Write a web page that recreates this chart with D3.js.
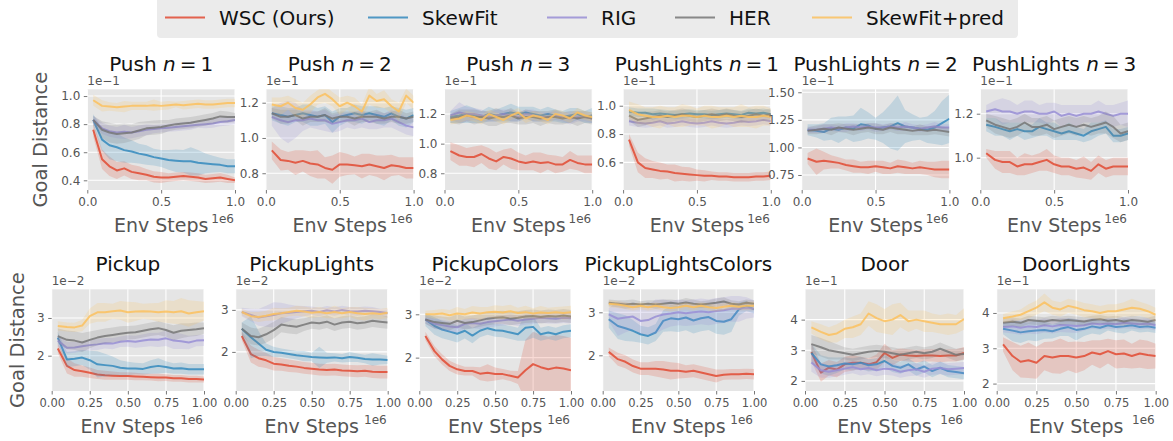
<!DOCTYPE html>
<html>
<head>
<meta charset="utf-8">
<title>Goal distance vs env steps</title>
<script src="https://d3js.org/d3.v7.min.js"></script>
<style>
  body { margin: 0; background: #fff; }
  svg { font-family: "DejaVu Sans", sans-serif; }
</style>
</head>
<body>
<svg width="1173" height="441"></svg>
<script>
// methods, in plotting order
var methods = ["WSC (Ours)", "SkewFit", "RIG", "HER", "SkewFit+pred"];
var colors = ["#E24A33", "#348ABD", "#988ED5", "#777777", "#FBC15E"];

// env steps (x 1e6) shared by every curve
var steps = [0.04, 0.1, 0.15, 0.2, 0.25, 0.3, 0.35, 0.4, 0.45, 0.5,
             0.55, 0.6, 0.65, 0.7, 0.75, 0.8, 0.85, 0.9, 0.95, 1.0];

// ---- mean goal distance, one row per method (values in the panel's 1e-k units)
var pushN1Mean = [
  [0.76,0.55,0.50,0.47,0.485,0.46,0.45,0.44,0.425,0.42,0.42,0.425,0.43,0.425,0.42,0.41,0.415,0.42,0.41,0.40],
  [0.83,0.69,0.65,0.635,0.615,0.605,0.59,0.58,0.565,0.555,0.545,0.54,0.535,0.535,0.525,0.52,0.515,0.51,0.50,0.50],
  [0.83,0.77,0.75,0.74,0.745,0.74,0.75,0.76,0.765,0.77,0.775,0.78,0.785,0.79,0.795,0.80,0.805,0.815,0.82,0.83],
  [0.83,0.76,0.74,0.73,0.735,0.74,0.755,0.77,0.775,0.78,0.79,0.80,0.805,0.81,0.82,0.83,0.84,0.855,0.85,0.85],
  [0.97,0.93,0.925,0.92,0.925,0.93,0.93,0.93,0.935,0.93,0.935,0.94,0.935,0.94,0.945,0.94,0.94,0.945,0.95,0.95]
];
var pushN1Sd = [
  [0.05,0.07,0.07,0.06,0.05,0.05,0.05,0.04,0.04,0.04,0.03,0.03,0.03,0.03,0.03,0.03,0.03,0.03,0.03,0.02],
  [0.04,0.08,0.10,0.10,0.09,0.08,0.07,0.07,0.06,0.06,0.07,0.08,0.08,0.10,0.09,0.07,0.06,0.05,0.05,0.05],
  [0.03,0.04,0.04,0.04,0.05,0.04,0.04,0.04,0.03,0.03,0.03,0.03,0.03,0.03,0.02,0.03,0.03,0.03,0.03,0.03],
  [0.03,0.06,0.07,0.07,0.07,0.06,0.06,0.05,0.05,0.05,0.04,0.04,0.04,0.04,0.04,0.04,0.04,0.04,0.04,0.03],
  [0.04,0.04,0.03,0.03,0.04,0.03,0.03,0.03,0.04,0.03,0.03,0.02,0.03,0.03,0.03,0.03,0.03,0.03,0.03,0.03]
];

var pushN2Mean = [
  [0.93,0.875,0.87,0.86,0.87,0.855,0.85,0.83,0.82,0.85,0.85,0.845,0.84,0.85,0.84,0.83,0.845,0.84,0.83,0.83],
  [1.14,1.13,1.12,1.13,1.14,1.13,1.12,1.13,1.09,1.12,1.13,1.14,1.13,1.14,1.13,1.12,1.14,1.12,1.11,1.13],
  [1.12,1.10,1.09,1.10,1.10,1.11,1.10,1.10,1.08,1.09,1.10,1.10,1.11,1.09,1.10,1.10,1.11,1.09,1.07,1.06],
  [1.14,1.12,1.12,1.13,1.11,1.12,1.12,1.13,1.11,1.12,1.12,1.11,1.12,1.12,1.12,1.11,1.12,1.12,1.11,1.12],
  [1.19,1.18,1.20,1.17,1.16,1.19,1.23,1.25,1.22,1.18,1.20,1.18,1.15,1.24,1.21,1.22,1.18,1.15,1.24,1.20]
];
var pushN2Sd = [
  [0.05,0.06,0.05,0.07,0.06,0.07,0.08,0.06,0.08,0.07,0.06,0.05,0.07,0.06,0.06,0.07,0.06,0.05,0.06,0.06],
  [0.04,0.05,0.05,0.04,0.05,0.06,0.05,0.05,0.06,0.05,0.04,0.05,0.05,0.04,0.05,0.05,0.04,0.05,0.05,0.04],
  [0.05,0.10,0.12,0.10,0.06,0.05,0.05,0.06,0.05,0.05,0.04,0.05,0.05,0.04,0.05,0.04,0.05,0.05,0.05,0.05],
  [0.03,0.04,0.04,0.03,0.04,0.03,0.03,0.04,0.03,0.03,0.03,0.04,0.03,0.03,0.04,0.03,0.03,0.04,0.03,0.03],
  [0.04,0.05,0.04,0.05,0.04,0.05,0.04,0.05,0.04,0.05,0.04,0.05,0.04,0.05,0.04,0.05,0.04,0.05,0.04,0.04]
];

var pushN3Mean = [
  [0.95,0.92,0.91,0.91,0.93,0.90,0.88,0.91,0.90,0.88,0.87,0.88,0.87,0.875,0.86,0.86,0.89,0.87,0.86,0.86],
  [1.18,1.19,1.20,1.19,1.18,1.20,1.19,1.20,1.21,1.20,1.21,1.20,1.19,1.20,1.19,1.18,1.19,1.20,1.18,1.19],
  [1.19,1.21,1.20,1.20,1.19,1.18,1.19,1.20,1.19,1.18,1.20,1.19,1.18,1.18,1.19,1.18,1.17,1.18,1.18,1.17],
  [1.17,1.18,1.19,1.18,1.18,1.17,1.18,1.18,1.19,1.17,1.18,1.18,1.17,1.18,1.18,1.17,1.18,1.17,1.18,1.17],
  [1.16,1.17,1.19,1.18,1.16,1.20,1.18,1.16,1.19,1.21,1.17,1.19,1.18,1.16,1.20,1.19,1.17,1.21,1.19,1.18]
];
var pushN3Sd = [
  [0.06,0.07,0.06,0.07,0.06,0.07,0.06,0.05,0.07,0.06,0.05,0.06,0.07,0.05,0.06,0.05,0.06,0.05,0.06,0.06],
  [0.04,0.05,0.06,0.05,0.04,0.05,0.04,0.05,0.06,0.05,0.04,0.05,0.04,0.05,0.04,0.04,0.05,0.04,0.04,0.05],
  [0.03,0.07,0.05,0.04,0.04,0.03,0.04,0.03,0.04,0.03,0.03,0.04,0.03,0.03,0.03,0.03,0.04,0.03,0.03,0.03],
  [0.03,0.05,0.04,0.05,0.04,0.05,0.06,0.04,0.05,0.04,0.05,0.04,0.05,0.04,0.05,0.04,0.04,0.05,0.04,0.04],
  [0.03,0.03,0.03,0.03,0.03,0.03,0.03,0.03,0.03,0.03,0.03,0.03,0.03,0.03,0.03,0.03,0.03,0.03,0.03,0.03]
];

var pushLightsN1Mean = [
  [0.76,0.60,0.56,0.55,0.54,0.535,0.525,0.52,0.515,0.51,0.505,0.505,0.50,0.50,0.495,0.495,0.495,0.50,0.50,0.505],
  [0.96,0.95,0.95,0.94,0.945,0.94,0.935,0.94,0.945,0.94,0.94,0.935,0.94,0.945,0.94,0.935,0.95,0.945,0.95,0.94],
  [0.89,0.88,0.875,0.88,0.89,0.875,0.88,0.89,0.88,0.875,0.88,0.89,0.88,0.875,0.88,0.89,0.885,0.89,0.90,0.89],
  [0.93,0.90,0.91,0.92,0.93,0.92,0.93,0.94,0.93,0.92,0.93,0.94,0.93,0.94,0.93,0.92,0.93,0.94,0.93,0.94],
  [0.97,0.94,0.93,0.92,0.92,0.93,0.92,0.93,0.93,0.92,0.93,0.92,0.92,0.93,0.92,0.93,0.92,0.92,0.93,0.92]
];
var pushLightsN1Sd = [
  [0.04,0.07,0.07,0.06,0.06,0.05,0.06,0.05,0.05,0.04,0.04,0.03,0.03,0.03,0.03,0.03,0.03,0.03,0.03,0.03],
  [0.03,0.03,0.03,0.04,0.03,0.03,0.03,0.03,0.03,0.03,0.03,0.03,0.03,0.03,0.03,0.03,0.03,0.03,0.03,0.03],
  [0.03,0.03,0.03,0.03,0.03,0.03,0.03,0.03,0.03,0.03,0.03,0.03,0.03,0.03,0.03,0.03,0.03,0.03,0.03,0.03],
  [0.04,0.05,0.05,0.04,0.04,0.04,0.04,0.04,0.04,0.04,0.04,0.04,0.04,0.04,0.04,0.04,0.04,0.04,0.04,0.04],
  [0.06,0.07,0.06,0.07,0.08,0.06,0.07,0.08,0.07,0.06,0.07,0.08,0.07,0.06,0.07,0.08,0.07,0.08,0.07,0.06]
];

var pushLightsN2Mean = [
  [0.90,0.87,0.88,0.87,0.86,0.84,0.83,0.82,0.82,0.83,0.82,0.81,0.83,0.82,0.81,0.82,0.81,0.80,0.80,0.80],
  [1.16,1.15,1.14,1.17,1.16,1.18,1.17,1.21,1.20,1.17,1.18,1.19,1.22,1.19,1.18,1.17,1.16,1.18,1.22,1.26],
  [1.16,1.16,1.17,1.18,1.17,1.18,1.19,1.18,1.19,1.18,1.18,1.19,1.18,1.19,1.18,1.17,1.18,1.19,1.18,1.18],
  [1.15,1.16,1.17,1.16,1.18,1.17,1.16,1.17,1.18,1.17,1.16,1.18,1.17,1.16,1.15,1.16,1.15,1.16,1.15,1.14],
  null
];
var pushLightsN2Sd = [
  [0.05,0.12,0.08,0.06,0.05,0.05,0.06,0.05,0.06,0.05,0.06,0.05,0.06,0.06,0.05,0.06,0.06,0.07,0.08,0.08],
  [0.05,0.06,0.08,0.10,0.12,0.10,0.12,0.15,0.12,0.10,0.14,0.20,0.25,0.15,0.12,0.10,0.12,0.15,0.20,0.22],
  [0.03,0.03,0.04,0.03,0.03,0.04,0.03,0.03,0.03,0.04,0.03,0.03,0.03,0.04,0.03,0.03,0.03,0.04,0.03,0.03],
  [0.03,0.04,0.04,0.05,0.04,0.04,0.05,0.04,0.04,0.05,0.04,0.04,0.05,0.04,0.04,0.05,0.04,0.04,0.04,0.04],
  null
];

var pushLightsN3Mean = [
  [1.02,0.99,0.98,0.98,0.96,0.97,0.97,0.98,0.99,0.97,0.96,0.96,0.95,0.955,0.94,0.97,0.95,0.96,0.96,0.96],
  [1.15,1.14,1.13,1.12,1.13,1.12,1.12,1.14,1.13,1.12,1.11,1.12,1.11,1.10,1.12,1.13,1.14,1.10,1.10,1.11],
  [1.21,1.22,1.21,1.21,1.20,1.21,1.21,1.20,1.20,1.21,1.19,1.20,1.19,1.20,1.20,1.21,1.20,1.19,1.20,1.20],
  [1.17,1.15,1.14,1.13,1.14,1.16,1.14,1.14,1.15,1.13,1.14,1.15,1.14,1.15,1.14,1.15,1.16,1.14,1.11,1.12],
  null
];
var pushLightsN3Sd = [
  [0.02,0.04,0.05,0.05,0.04,0.05,0.04,0.04,0.05,0.04,0.04,0.04,0.04,0.05,0.04,0.04,0.04,0.04,0.04,0.04],
  [0.03,0.04,0.03,0.04,0.03,0.04,0.03,0.04,0.03,0.04,0.03,0.04,0.03,0.03,0.04,0.03,0.03,0.03,0.03,0.03],
  [0.03,0.04,0.06,0.05,0.04,0.05,0.05,0.04,0.05,0.04,0.05,0.04,0.05,0.04,0.04,0.05,0.04,0.05,0.05,0.06],
  [0.03,0.04,0.04,0.04,0.04,0.04,0.04,0.04,0.04,0.04,0.04,0.04,0.04,0.04,0.04,0.04,0.05,0.05,0.04,0.04],
  null
];

var pickupMean = [
  [2.19,1.73,1.62,1.59,1.55,1.50,1.48,1.47,1.46,1.46,1.45,1.44,1.43,1.42,1.42,1.40,1.40,1.38,1.38,1.37],
  [2.48,1.90,1.92,1.95,1.88,1.77,1.75,1.73,1.68,1.66,1.66,1.65,1.70,1.73,1.70,1.66,1.67,1.64,1.64,1.64],
  [2.40,2.21,2.22,2.25,2.28,2.30,2.33,2.32,2.37,2.39,2.37,2.40,2.43,2.42,2.46,2.40,2.38,2.35,2.40,2.41],
  [2.52,2.42,2.40,2.35,2.42,2.48,2.52,2.55,2.58,2.61,2.62,2.66,2.70,2.73,2.68,2.61,2.66,2.68,2.70,2.73],
  [2.79,2.76,2.75,2.80,3.05,3.15,3.15,3.18,3.20,3.15,3.17,3.18,3.17,3.15,3.17,3.15,3.18,3.12,3.15,3.18]
];
var pickupSd = [
  [0.12,0.20,0.18,0.15,0.14,0.12,0.12,0.11,0.10,0.10,0.10,0.09,0.09,0.10,0.09,0.09,0.09,0.09,0.09,0.08],
  [0.15,0.20,0.20,0.20,0.25,0.35,0.30,0.25,0.20,0.18,0.15,0.15,0.18,0.20,0.15,0.14,0.15,0.14,0.14,0.14],
  [0.15,0.15,0.14,0.13,0.14,0.15,0.14,0.15,0.14,0.15,0.16,0.17,0.18,0.19,0.20,0.22,0.20,0.18,0.15,0.15],
  [0.20,0.25,0.25,0.25,0.22,0.20,0.20,0.20,0.20,0.18,0.18,0.18,0.18,0.18,0.18,0.20,0.20,0.18,0.18,0.15],
  [0.12,0.12,0.12,0.15,0.20,0.25,0.25,0.20,0.25,0.28,0.25,0.20,0.22,0.25,0.30,0.30,0.35,0.35,0.30,0.25]
];

var pickupLightsMean = [
  [2.38,1.95,1.85,1.80,1.72,1.70,1.67,1.65,1.62,1.60,1.58,1.57,1.58,1.56,1.55,1.54,1.55,1.53,1.52,1.52],
  [2.55,2.35,2.20,2.05,2.00,1.98,1.95,1.92,1.90,1.88,1.87,1.86,1.87,1.85,1.88,1.86,1.83,1.82,1.82,1.81],
  [2.95,2.88,2.82,2.85,2.88,2.92,2.93,2.95,2.97,2.98,2.95,2.99,2.96,3.00,2.97,2.96,2.98,2.97,2.95,2.92],
  [2.55,2.38,2.35,2.42,2.52,2.65,2.62,2.60,2.65,2.70,2.68,2.72,2.65,2.70,2.72,2.68,2.70,2.74,2.72,2.70],
  [2.95,2.85,2.83,2.86,2.90,2.92,2.95,2.98,2.96,2.93,2.95,2.92,2.95,2.92,2.95,2.92,2.90,2.92,2.90,2.93]
];
var pickupLightsSd = [
  [0.10,0.20,0.20,0.18,0.16,0.15,0.15,0.14,0.14,0.14,0.14,0.14,0.14,0.14,0.14,0.14,0.14,0.15,0.15,0.15],
  [0.15,0.50,0.30,0.15,0.12,0.10,0.10,0.10,0.12,0.10,0.25,0.12,0.10,0.10,0.12,0.10,0.10,0.15,0.12,0.10],
  [0.10,0.15,0.20,0.25,0.30,0.25,0.20,0.15,0.12,0.10,0.10,0.10,0.10,0.10,0.10,0.10,0.10,0.10,0.08,0.10],
  [0.15,0.20,0.20,0.20,0.20,0.18,0.18,0.18,0.15,0.15,0.15,0.15,0.15,0.15,0.15,0.15,0.15,0.15,0.15,0.15],
  [0.08,0.10,0.12,0.12,0.15,0.12,0.10,0.12,0.12,0.12,0.12,0.12,0.15,0.12,0.12,0.15,0.15,0.12,0.12,0.12]
];

var pickupColorsMean = [
  [2.50,2.15,1.96,1.81,1.73,1.69,1.69,1.63,1.65,1.62,1.62,1.58,1.54,1.71,1.85,1.78,1.73,1.77,1.75,1.71],
  [2.88,2.73,2.65,2.60,2.55,2.62,2.51,2.62,2.68,2.63,2.62,2.58,2.54,2.69,2.71,2.54,2.58,2.54,2.60,2.62],
  [2.88,2.78,2.75,2.72,2.70,2.78,2.80,2.78,2.82,2.84,2.86,2.88,2.85,2.88,2.90,2.92,2.91,2.90,2.92,2.91],
  [2.88,2.82,2.80,2.78,2.85,2.80,2.82,2.86,2.90,2.92,2.93,2.90,2.92,2.95,2.96,2.94,2.96,2.95,2.97,2.95],
  [3.00,3.00,3.02,2.98,3.02,3.00,3.04,3.02,3.05,3.06,3.04,3.07,3.03,3.05,3.02,3.04,3.03,3.05,3.03,3.05]
];
var pickupColorsSd = [
  [0.10,0.12,0.12,0.12,0.12,0.10,0.10,0.15,0.20,0.15,0.12,0.12,0.15,0.70,0.75,0.75,0.75,0.75,0.75,0.75],
  [0.15,0.20,0.20,0.20,0.20,0.18,0.18,0.15,0.15,0.15,0.15,0.15,0.15,0.30,0.25,0.15,0.15,0.15,0.15,0.15],
  [0.10,0.12,0.12,0.12,0.12,0.12,0.12,0.12,0.12,0.12,0.12,0.12,0.12,0.12,0.12,0.12,0.12,0.12,0.12,0.12],
  [0.10,0.15,0.15,0.15,0.15,0.15,0.15,0.15,0.15,0.15,0.15,0.15,0.15,0.15,0.15,0.15,0.15,0.15,0.15,0.15],
  [0.08,0.10,0.10,0.12,0.15,0.12,0.15,0.15,0.12,0.15,0.15,0.15,0.12,0.15,0.12,0.15,0.12,0.12,0.15,0.15]
];

var pickupLightsColorsMean = [
  [2.08,1.91,1.85,1.75,1.69,1.69,1.69,1.67,1.64,1.64,1.62,1.64,1.60,1.56,1.52,1.55,1.56,1.56,1.57,1.56],
  [2.84,2.68,2.63,2.57,2.49,2.45,2.53,2.80,2.86,2.84,2.88,2.81,2.86,2.89,2.80,2.78,2.84,3.07,3.15,3.07],
  [2.95,2.85,2.88,2.90,2.80,2.82,2.90,2.95,2.97,3.00,2.98,3.00,3.02,3.00,3.03,3.05,3.08,3.08,3.10,3.08],
  [3.22,3.20,3.18,3.20,3.18,3.20,3.18,3.20,3.22,3.20,3.23,3.20,3.18,3.20,3.22,3.25,3.20,3.18,3.22,3.20],
  [3.20,3.18,3.15,3.12,3.15,3.12,3.15,3.12,3.10,3.12,3.15,3.12,3.15,3.12,3.10,3.13,3.15,3.13,3.15,3.15]
];
var pickupLightsColorsSd = [
  [0.10,0.15,0.15,0.15,0.15,0.15,0.18,0.20,0.20,0.18,0.15,0.15,0.15,0.15,0.15,0.12,0.12,0.12,0.12,0.12],
  [0.20,0.30,0.30,0.25,0.20,0.20,0.20,0.25,0.30,0.30,0.30,0.30,0.30,0.30,0.30,0.30,0.30,0.15,0.12,0.10],
  [0.15,0.40,0.35,0.30,0.30,0.35,0.40,0.35,0.30,0.30,0.30,0.30,0.30,0.30,0.30,0.30,0.30,0.30,0.25,0.20],
  [0.08,0.08,0.10,0.10,0.08,0.08,0.10,0.10,0.08,0.08,0.10,0.10,0.08,0.08,0.10,0.10,0.08,0.08,0.08,0.08],
  [0.08,0.08,0.08,0.08,0.08,0.08,0.08,0.08,0.08,0.08,0.08,0.08,0.08,0.08,0.08,0.08,0.08,0.08,0.10,0.10]
];

var doorMean = [
  [2.94,2.27,2.43,2.37,2.54,2.59,2.59,2.54,2.61,2.91,2.75,2.86,2.83,2.81,2.83,2.83,2.81,2.83,2.83,2.91],
  [2.91,2.54,2.47,2.51,2.57,2.54,2.59,2.51,2.54,2.65,2.49,2.43,2.54,2.37,2.47,2.32,2.43,2.32,2.29,2.25],
  [2.60,2.35,2.30,2.35,2.40,2.45,2.38,2.42,2.35,2.40,2.38,2.30,2.35,2.38,2.30,2.40,2.42,2.38,2.40,2.42],
  [3.20,3.10,3.00,2.95,2.90,2.85,2.90,2.95,2.98,2.95,2.90,2.85,2.90,2.95,2.90,2.95,3.05,2.95,2.85,2.88],
  [3.75,3.60,3.50,3.55,3.70,3.75,3.85,4.20,4.05,3.95,4.00,4.15,3.95,4.00,3.95,3.90,3.85,3.85,3.85,4.02]
];
var doorSd = [
  [0.30,0.30,0.25,0.25,0.25,0.25,0.20,0.20,0.25,0.30,0.25,0.20,0.20,0.20,0.20,0.20,0.20,0.20,0.20,0.20],
  [0.30,0.30,0.30,0.25,0.20,0.20,0.20,0.20,0.20,0.20,0.20,0.20,0.20,0.20,0.20,0.20,0.20,0.20,0.20,0.20],
  [0.30,0.25,0.20,0.20,0.20,0.20,0.20,0.20,0.20,0.20,0.20,0.20,0.20,0.20,0.20,0.20,0.20,0.20,0.20,0.20],
  [0.30,0.30,0.30,0.25,0.20,0.20,0.20,0.20,0.20,0.20,0.20,0.20,0.20,0.20,0.20,0.20,0.20,0.20,0.20,0.20],
  [0.20,0.25,0.25,0.30,0.30,0.35,0.35,0.40,0.45,0.40,0.50,0.40,0.35,0.30,0.35,0.30,0.30,0.35,0.30,0.35]
];

var doorLightsMean = [
  [3.11,2.78,2.62,2.66,2.59,2.78,2.74,2.78,2.78,2.74,2.78,2.88,2.83,2.92,2.83,2.85,2.78,2.85,2.81,2.78],
  [3.55,3.50,3.45,3.48,3.50,3.52,3.48,3.55,3.60,3.52,3.55,3.62,3.58,3.65,3.60,3.62,3.65,3.60,3.62,3.58],
  [3.60,3.62,3.58,3.62,3.60,3.65,3.62,3.66,3.65,3.63,3.65,3.70,3.68,3.70,3.68,3.72,3.70,3.68,3.70,3.65],
  [3.72,3.75,3.72,3.80,3.78,3.76,3.80,3.78,3.80,3.78,3.76,3.80,3.82,3.78,3.80,3.76,3.80,3.78,3.75,3.80],
  [3.85,3.90,3.95,4.05,4.15,4.30,4.15,4.10,4.20,4.15,4.08,4.05,4.00,4.05,4.05,4.10,4.15,4.12,4.05,3.95]
];
var doorLightsSd = [
  [0.20,0.40,0.45,0.50,0.45,0.40,0.45,0.50,0.40,0.45,0.40,0.35,0.40,0.35,0.40,0.40,0.35,0.40,0.40,0.35],
  [0.15,0.30,0.30,0.25,0.30,0.25,0.20,0.20,0.25,0.30,0.20,0.20,0.20,0.15,0.15,0.20,0.15,0.15,0.15,0.15],
  [0.15,0.20,0.20,0.20,0.20,0.20,0.20,0.20,0.20,0.20,0.15,0.15,0.15,0.15,0.15,0.15,0.15,0.15,0.15,0.15],
  [0.12,0.12,0.12,0.12,0.12,0.12,0.12,0.12,0.12,0.12,0.12,0.12,0.12,0.12,0.12,0.12,0.12,0.12,0.12,0.12],
  [0.12,0.15,0.15,0.20,0.20,0.25,0.20,0.20,0.20,0.20,0.20,0.20,0.20,0.20,0.20,0.20,0.25,0.20,0.20,0.20]
];

// ---- per-panel labels and axis settings
var panelNames = ["Push", "Push", "Push", "PushLights", "PushLights", "PushLights",
                  "Pickup", "PickupLights", "PickupColors", "PickupLightsColors", "Door", "DoorLights"];
var panelN = [1, 2, 3, 1, 2, 3, null, null, null, null, null, null];
var panelMeans = [pushN1Mean, pushN2Mean, pushN3Mean, pushLightsN1Mean, pushLightsN2Mean, pushLightsN3Mean,
                  pickupMean, pickupLightsMean, pickupColorsMean, pickupLightsColorsMean, doorMean, doorLightsMean];
var panelSds = [pushN1Sd, pushN2Sd, pushN3Sd, pushLightsN1Sd, pushLightsN2Sd, pushLightsN3Sd,
                pickupSd, pickupLightsSd, pickupColorsSd, pickupLightsColorsSd, doorSd, doorLightsSd];
var yOffsetText = ["1e\u22121", "1e\u22121", "1e\u22121", "1e\u22121", "1e\u22121", "1e\u22121",
                   "1e\u22122", "1e\u22122", "1e\u22122", "1e\u22122", "1e\u22121", "1e\u22121"];
var yLimits = [[0.331, 1.048], [0.705, 1.276], [0.687, 1.367], [0.405, 1.116], [0.614, 1.527], [0.853, 1.311],
               [1.064, 3.76], [1.07, 3.49], [1.23, 3.577], [1.17, 3.535], [1.67, 4.99], [1.79, 4.67]];
var yTicks = [[0.4, 0.6, 0.8, 1.0], [0.8, 1.0, 1.2], [0.8, 1.0, 1.2], [0.6, 0.8, 1.0], [0.75, 1.0, 1.25, 1.5], [1.0, 1.2],
              [2, 3], [2, 3], [2, 3], [2, 3], [2, 3, 4], [2, 3, 4]];
var yTickDigits = [1, 1, 1, 1, 2, 1, 0, 0, 0, 0, 0, 0];
var xTicksTop = [0, 0.5, 1.0];
var xTicksBottom = [0, 0.25, 0.5, 0.75, 1.0];

// ---- layout (pixels)
var rows = [
  { top: 89.3, bottom: 190, lefts: [87.3, 265.9, 444.5, 623.1, 801.7, 980.3], widths: [147.7, 147.7, 147.7, 147.7, 147.7, 147.7], ylabelX: 47, xt: xTicksTop, xd: 1, xfs: 12 },
  { top: 289.3, bottom: 391, lefts: [51.7, 235.7, 419.3, 602.7, 805, 996.7], widths: [152.3, 152, 151.7, 151.3, 159, 159], ylabelX: 24, xt: xTicksBottom, xd: 2, xfs: 11.5 }
];
var legendStarts = [165, 368, 547, 675, 812];

var svg = d3.select("svg");
var grey = "#555555";

panelMeans.forEach(function(means, p) {
  var row = rows[Math.floor(p / 6)], c = p % 6;
  var left = row.lefts[c], w = row.widths[c], right = left + w;
  var x = d3.scaleLinear().domain([0, 1]).range([left, right]);
  var y = d3.scaleLinear().domain(yLimits[p]).range([row.bottom, row.top]);
  var g = svg.append("g");

  g.append("rect").attr("x", left).attr("y", row.top).attr("width", w)
    .attr("height", row.bottom - row.top).attr("fill", "#E5E5E5");

  // grid
  g.selectAll(".gx").data(row.xt).enter().append("line")
    .attr("x1", function(d) { return x(d); }).attr("x2", function(d) { return x(d); })
    .attr("y1", row.top).attr("y2", row.bottom)
    .attr("stroke", "#fff").attr("stroke-width", 1.1);
  g.selectAll(".gy").data(yTicks[p]).enter().append("line")
    .attr("x1", left).attr("x2", right)
    .attr("y1", function(d) { return y(d); }).attr("y2", function(d) { return y(d); })
    .attr("stroke", "#fff").attr("stroke-width", 1.1);

  var clipId = "clip" + p;
  svg.append("clipPath").attr("id", clipId).append("rect")
    .attr("x", left).attr("y", row.top).attr("width", w).attr("height", row.bottom - row.top);

  var plot = g.append("g").attr("clip-path", "url(#" + clipId + ")");
  var sds = panelSds[p];
  means.forEach(function(m, k) {
    if (!m) return;
    var pts = steps.map(function(s, i) { return { s: s, m: m[i], sd: sds[k][i] }; });
    var area = d3.area()
      .x(function(d) { return x(d.s); })
      .y0(function(d) { return y(d.m - d.sd); })
      .y1(function(d) { return y(d.m + d.sd); });
    var line = d3.line()
      .x(function(d) { return x(d.s); })
      .y(function(d) { return y(d.m); });
    plot.append("path").attr("d", area(pts)).attr("fill", colors[k]).attr("fill-opacity", 0.2);
    plot.append("path").attr("d", line(pts)).attr("fill", "none")
      .attr("stroke", colors[k]).attr("stroke-opacity", 0.85).attr("stroke-width", 2)
      .attr("stroke-linejoin", "round");
  });

  // axes
  var yAxis = d3.axisLeft(y).tickValues(yTicks[p]).tickSize(3.5).tickPadding(3.5)
    .tickFormat(d3.format("." + yTickDigits[p] + "f"));
  var ya = g.append("g").attr("transform", "translate(" + left + ",0)").call(yAxis);
  var xAxis = d3.axisBottom(x).tickValues(row.xt).tickSize(3.5).tickPadding(4)
    .tickFormat(d3.format("." + row.xd + "f"));
  var xa = g.append("g").attr("transform", "translate(0," + row.bottom + ")").call(xAxis);
  [ya, xa].forEach(function(a) {
    a.select(".domain").remove();
    a.selectAll("line").attr("stroke", grey).attr("stroke-width", 0.8);
    a.selectAll("text").attr("fill", grey).style("font-family", "DejaVu Sans");
  });
  ya.selectAll("text").style("font-size", "12px");
  xa.selectAll("text").style("font-size", row.xfs + "px");

  // title
  var t = g.append("text").attr("x", (left + right) / 2).attr("y", row.top - 18.5)
    .attr("text-anchor", "middle").style("font-size", "20px").attr("fill", "#111");
  t.append("tspan").text(panelNames[p] + (panelN[p] ? " " : ""));
  if (panelN[p]) {
    t.append("tspan").style("font-style", "italic").text("n");
    t.append("tspan").text("\u2009=\u2009" + panelN[p]);
  }

  g.append("text").attr("x", left).attr("y", row.top - 4.5)
    .style("font-size", "12px").attr("fill", grey).text(yOffsetText[p]);
  g.append("text").attr("x", right - 1).attr("y", row.bottom + 32.7).attr("text-anchor", "end")
    .style("font-size", "12px").attr("fill", grey).text("1e6");
  g.append("text").attr("x", (left + right) / 2).attr("y", row.bottom + 42)
    .attr("text-anchor", "middle").style("font-size", "19px").attr("fill", grey).text("Env Steps");

  if (c === 0) {
    var cy = (row.top + row.bottom) / 2;
    g.append("text").attr("transform", "translate(" + row.ylabelX + "," + cy + ") rotate(-90)")
      .attr("text-anchor", "middle").style("font-size", "19.5px").attr("fill", grey).text("Goal Distance");
  }
});

// legend
var lg = svg.append("g");
lg.append("rect").attr("x", 157).attr("y", -4).attr("width", 861).attr("height", 42)
  .attr("rx", 4).attr("fill", "#EBEBEB");
methods.forEach(function(name, k) {
  var x0 = legendStarts[k];
  lg.append("line").attr("x1", x0).attr("x2", x0 + 40).attr("y1", 17.5).attr("y2", 17.5)
    .attr("stroke", colors[k]).attr("stroke-opacity", 0.85).attr("stroke-width", 2);
  lg.append("text").attr("x", x0 + 54).attr("y", 25).style("font-size", "20px")
    .attr("fill", "#111").text(name);
});
</script>
</body>
</html>
